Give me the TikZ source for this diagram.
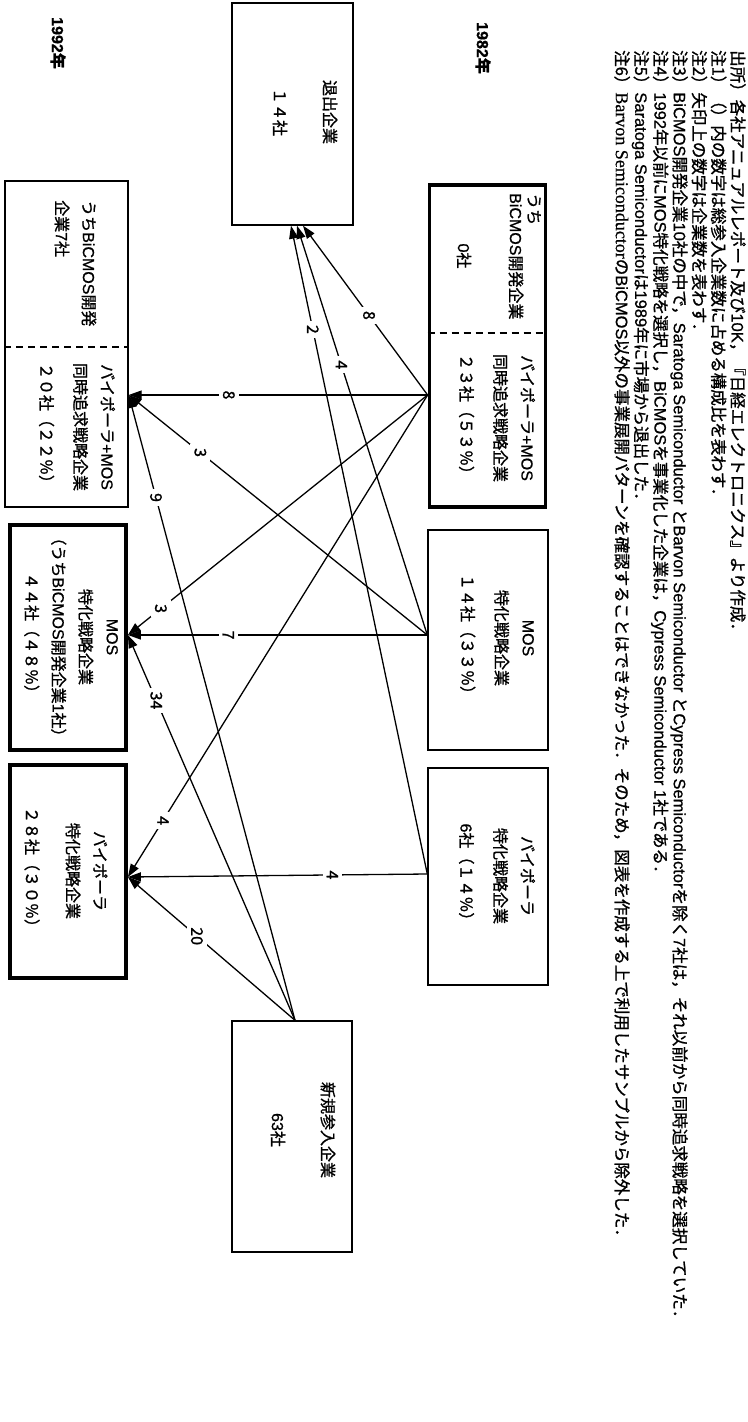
\documentclass[tikz,border=0pt]{standalone}
\usepackage{fontspec}
\setmainfont{Noto Sans CJK JP}[FakeBold=1.2]
\newfontfamily\latf{Liberation Sans}[FakeBold=0.8]
\newfontfamily\serf{Liberation Serif}[FakeBold=0.6]
\newcommand\lat[1]{{\latf #1}}
\newcommand\ser[1]{{\serf #1}}
\usetikzlibrary{arrows.meta}
\begin{document}
\begin{tikzpicture}[x=1bp,y=-1bp,
  box/.style={draw,line width=1.4bp,inner sep=0pt},
  heavybox/.style={box,line width=3.8bp},
  txt/.style={rotate=-90,inner sep=0pt,align=center,font=\fontsize{16bp}{27bp}\selectfont},
  flow/.style={line width=1.3bp,-{Triangle[length=13bp,width=9bp]}},
  num/.style={rotate=-90,fill=white,inner sep=4bp,font=\fontsize{16bp}{18bp}\selectfont},
  divider/.style={line width=1.1bp,dash pattern=on 7bp off 5bp}]
  \useasboundingbox (0,0) rectangle (747,1422);
  % notes
  \node[rotate=-90,anchor=north west,align=left,inner sep=0pt,font=\fontsize{16.5bp}{19.3bp}\selectfont] (notes) at (746,50) {%
    出所）各社アニュアルレポート及び\lat{10K}，『日経エレクトロニクス』より作成．\\
    注1）（）内の数字は総参入企業数に占める構成比を表わす．\\
    注2）矢印上の数字は企業数を表わす．\\
    注3）\lat{BiCMOS}開発企業\lat{10}社の中で，\lat{Saratoga Semiconductor }と\lat{Barvon Semiconductor }と\lat{Cypress Semiconductor}を除く\lat{7}社は，それ以前から同時追求戦略を選択していた．\\
    注4）\lat{1992}年以前に\lat{MOS}特化戦略を選択し，\lat{BiCMOS}を事業化した企業は，\lat{Cypress Semiconductor 1}社である．\\
    注5）\lat{Saratoga Semiconductor}は\lat{1989}年に市場から退出した．\\
    注6）\ser{\fontsize{18bp}{19.3bp}\selectfont Barvon Semiconductor}の\lat{BiCMOS}以外の事業展開パターンを確認することはできなかった．そのため，図表を作成する上で利用したサンプルから除外した．};
  \node[txt,font=\fontsize{16bp}{27bp}\selectfont\bfseries] (y82) at (483,48) {\lat{1982}年};
  \node[txt,font=\fontsize{16bp}{27bp}\selectfont\bfseries] (y92) at (58,43) {\lat{1992}年};
  % boxes
  \node[box,minimum width=121bp,minimum height=222bp] (exit) at (292.5,114) {};
  \node[box,minimum width=120bp,minimum height=231bp] (entry) at (292,1136.5) {};
  \node[heavybox,minimum width=116bp,minimum height=322bp] (b82bm) at (487.5,346) {};
  \node[box,minimum width=120bp,minimum height=220bp] (b82mos) at (488,640) {};
  \node[box,minimum width=120bp,minimum height=217bp] (b82bip) at (488,876.5) {};
  \node[box,minimum width=123bp,minimum height=326bp] (b92bm) at (66.5,344) {};
  \node[heavybox,minimum width=116bp,minimum height=225bp] (b92mos) at (68,637.5) {};
  \node[heavybox,minimum width=116bp,minimum height=213bp] (b92bip) at (68,871.5) {};
  \draw[divider] (b82bm.west |- 0,333) -- (b82bm.east |- 0,333);
  \draw[divider] (b92bm.west |- 0,347) -- (b92bm.east |- 0,347);
  % box texts
  \node[txt] (exittxt) at (305,112) {退出企業\\[23bp]１４社};
  \node[txt] (entrytxt) at (303,1130) {新規参入企業\\[23bp]\lat{63}社};
  \node[txt,anchor=west] (u82a) at (534,193) {うち};
  \node[txt,anchor=west] (u82b) at (516,193) {\lat{BiCMOS}開発企業};
  \node[txt] (u82c) at (464,256) {\lat{0}社};
  \node[txt] (t82bm) at (497,418) {バイポーラ\lat{+MOS}\\同時追求戦略企業\\[7bp]２３社（５３％）};
  \node[txt] (t82mos) at (497,638) {\lat{MOS}\\特化戦略企業\\[7bp]１４社（３３％）};
  \node[txt] (t82bip) at (497,876) {バイポーラ\\特化戦略企業\\[7bp]\lat{6}社（１４％）};
  \node[txt,align=left,anchor=west] (u92) at (75.5,200) {うち\lat{BiCMOS}開発\\企業\lat{7}社};
  \node[txt] (t92bm) at (77,427) {バイポーラ\lat{+MOS}\\同時追求戦略企業\\[7bp]２０社（２２％）};
  \node[txt] (t92mos) at (71,637) {\lat{MOS}\\特化戦略企業\\（うち\lat{BiCMOS}開発企業\lat{1}社）\\４４社（４８％）};
  \node[txt] (t92bip) at (66,871) {バイポーラ\\特化戦略企業\\[14bp]２８社（３０％）};
  % ports
  \coordinate (o82bm) at (b82bm.west |- 0,395);
  \coordinate (o82mos) at (b82mos.west |- 0,635);
  \coordinate (o82bip) at (b82bip.west |- 0,874);
  \coordinate (onew) at (entry.north -| 295,0);
  \coordinate (ixa) at (exit.south -| 291,0);
  \coordinate (ixb) at (exit.south -| 297,0);
  \coordinate (ixc) at (exit.south -| 303,0);
  \coordinate (i92bm) at (b92bm.east |- 0,395);
  \coordinate (i92mos) at (b92mos.east |- 0,635);
  \coordinate (i92bip) at (b92bip.east |- 0,877);
  % flows
  \draw[flow] (o82bm) -- node[num,pos=0.47] {8} (ixc);
  \draw[flow] (o82bm) -- node[num,pos=0.665] {8} (i92bm);
  \draw[flow] (o82bm) -- node[num,pos=0.89] {3} (i92mos);
  \draw[flow] (o82bm) -- node[num,pos=0.883] {4} (i92bip);
  \draw[flow] (o82mos) -- node[num,pos=0.66] {4} (ixb);
  \draw[flow] (o82mos) -- node[num,pos=0.76] {3} (i92bm);
  \draw[flow] (o82mos) -- node[num,pos=0.665] {7} (i92mos);
  \draw[flow] (o82bip) -- node[num,pos=0.84] {2} (ixa);
  \draw[flow] (o82bip) -- node[num,pos=0.317] {4} (i92bip);
  \draw[flow] (onew) -- node[num,pos=0.836] {9} (i92bm);
  \draw[flow] (onew) -- node[num,pos=0.83] {34} (i92mos);
  \draw[flow] (onew) -- node[num,pos=0.587] {20} (i92bip);
\end{tikzpicture}
\end{document}
